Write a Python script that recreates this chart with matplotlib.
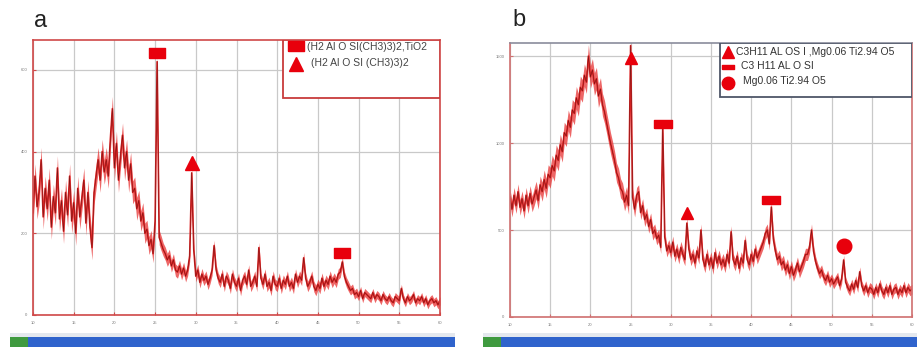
import numpy as np
import matplotlib.pyplot as plt
from matplotlib.patches import Rectangle
from matplotlib.lines import Line2D

plt.rcParams['font.family'] = ['Liberation Sans', 'DejaVu Sans']

# 2-theta grid, 0.25 deg steps (10 -> 60)
two_theta = np.arange(10, 60.01, 0.25)

# panel a intensities (4 values per degree)
counts_a = [
    250, 340, 265, 300, 380, 240, 310, 260, 330, 215, 290, 250,
    360, 235, 280, 205, 300, 245, 340, 230, 275, 200, 310, 240,
    285, 330, 225, 300, 215, 165, 300, 340, 380, 330, 400, 350,
    380, 340, 430, 505, 360, 420, 330, 390, 440, 360, 400, 330,
    370, 300, 310, 260, 280, 230, 250, 200, 210, 170, 185, 150,
    230, 620, 190, 175, 160, 150, 135, 145, 120, 135, 110, 105,
    120, 100, 115, 95, 110, 145, 348, 160, 95, 110, 80, 100,
    85, 95, 75, 90, 110, 170, 110, 90, 80, 100, 70, 95,
    85, 65, 100, 80, 70, 90, 60, 85, 95, 75, 110, 70,
    80, 95, 70, 165, 90, 75, 100, 70, 80, 60, 95, 75,
    70, 90, 65, 85, 75, 95, 70, 80, 65, 100, 80, 95,
    85, 140, 90, 70, 80, 95, 70, 60, 75, 65, 90, 70,
    85, 75, 95, 80, 90, 80, 100, 105, 130, 95, 80, 70,
    60, 65, 50, 55, 45, 60, 40, 55, 50, 45, 40, 55,
    40, 50, 45, 35, 50, 40, 35, 45, 35, 30, 45, 40,
    35, 65, 40, 30, 45, 35, 40, 50, 30, 40, 35, 45,
    30, 40, 25, 35, 40, 30, 35, 25, 35,
]
# half-width of the noise band, one value per degree (10..59) + end
band_a = [30, 30, 30, 30, 30, 30, 30, 30, 30, 30, 30, 30, 28, 25, 22,
          18, 16, 15, 14, 14, 14, 13, 13, 13, 13, 13, 13, 13, 13, 13,
          13, 13, 13, 13, 13, 13, 13, 13, 12, 11, 10, 10, 10, 10, 10,
          10, 10, 10, 10, 10, 10]

# panel b intensities
counts_b = [
    690, 620, 700, 640, 720, 630, 680, 610, 700, 640, 710, 650,
    690, 730, 670, 760, 720, 790, 740, 820, 800, 870, 840, 930,
    900, 990, 950, 1060, 1040, 1130, 1090, 1190, 1170, 1260, 1220, 1320,
    1300, 1390, 1350, 1500, 1380, 1420, 1340, 1370, 1270, 1310, 1220, 1180,
    1120, 1060, 1000, 950, 900, 830, 800, 740, 720, 660, 700, 640,
    1560, 690, 620, 700, 720, 600, 640, 560, 590, 520, 560, 480,
    500, 450, 470, 400, 1090, 460, 380, 410, 370, 430, 350, 390,
    340, 400, 360, 330, 540, 390, 330, 360, 310, 380, 340, 500,
    330, 290, 360, 300, 340, 280, 370, 310, 350, 300, 330, 290,
    360, 310, 490, 330, 300, 350, 280, 340, 310, 440, 330, 300,
    360, 320, 390, 340, 370, 400, 430, 480, 500, 420, 632, 450,
    380, 330, 350, 300, 320, 270, 300, 250, 290, 240, 270, 310,
    260, 290, 320, 360, 360, 400, 500, 380, 320, 280, 250, 270,
    230, 210, 240, 200, 220, 190, 210, 230, 180, 220, 328, 200,
    170, 150, 190, 160, 210, 170, 260, 180, 150, 180, 140, 170,
    160, 130, 170, 140, 190, 150, 130, 170, 140, 180, 130, 160,
    170, 130, 160, 140, 180, 140, 170, 150, 160,
]
band_b = [45, 45, 45, 50, 55, 60, 60, 60, 65, 65, 65, 65, 60, 55, 50,
          45, 40, 38, 35, 35, 35, 35, 35, 35, 35, 35, 35, 35, 35, 35,
          35, 35, 35, 35, 35, 35, 35, 35, 30, 30, 28, 28, 28, 28, 28,
          28, 28, 28, 28, 28, 28]

# phase markers: position, height of marker
rect_a_pos = [25.25, 48.0]
rect_a_y = [640, 152]
tri_a_pos = [29.5]
tri_a_y = [372]

tri_b_pos = [25.0, 32.0]
tri_b_y = [1490, 598]
rect_b_pos = [29.0, 42.5]
rect_b_y = [1110, 672]
circ_b_pos = [51.6]
circ_b_y = [408]

legend_a = ['(H2 Al O SI(CH3)3)2,TiO2', '(H2 Al O SI (CH3)3)2']
legend_b = ['C3H11 AL OS I ,Mg0.06 Ti2.94 O5', 'C3 H11 AL O SI', 'Mg0.06 Ti2.94 O5']

RED = '#e8000c'
LINE = '#e02424'
CORE = '#6e1414'
W, H = 917, 347

rect_wide = [(-1, -0.6), (1, -0.6), (1, 0.6), (-1, 0.6), (-1, -0.6)]
rect_thin = [(-1, -0.4), (1, -0.4), (1, 0.4), (-1, 0.4), (-1, -0.4)]

fig = plt.figure(figsize=(9.17, 3.47), dpi=100)
ax_a = fig.add_axes([33 / W, 1 - 315 / H, 407 / W, 275 / H])
ax_b = fig.add_axes([510 / W, 1 - 317 / H, 402 / W, 274 / H])


def style_axes(ax, ymax, ystep, frame):
    ax.set_xlim(10, 60)
    ax.set_ylim(0, ymax)
    ax.set_xticks(np.arange(10, 61, 5))
    ax.set_yticks(np.arange(0, ymax, ystep))
    ax.grid(True, color='#c9c9c9', linewidth=0.9)
    ax.set_axisbelow(True)
    ax.tick_params(labelsize=3, labelcolor='#777777', length=2, color=frame, direction='in', pad=4)
    for s in ax.spines.values():
        s.set_color(frame)
        s.set_linewidth(1.2)
    ax.text(1.0, -0.07, 'Theta/2Theta [deg]', transform=ax.transAxes, ha='right',
            va='top', fontsize=3, color='#777777')


def draw_pattern(ax, counts, band):
    y = np.array(counts, dtype=float)
    half = np.repeat(band, 4)[:len(y)]
    ax.fill_between(two_theta, y - half, y + half, color='#e83434', alpha=0.75, linewidth=0)
    ax.plot(two_theta, y, color=LINE, linewidth=1.2)
    ax.plot(two_theta, y, color=CORE, linewidth=0.35)


# ---- panel a ----
style_axes(ax_a, 673, 200, '#d04848')
draw_pattern(ax_a, counts_a, band_a)
ax_a.plot(rect_a_pos, rect_a_y, ls='none', marker=rect_wide, markersize=11.5, color=RED)
ax_a.plot(tri_a_pos, tri_a_y, ls='none', marker='^', markersize=9.5, color=RED)

ax_a.add_patch(Rectangle((0.614, 0.79), 0.386, 0.21, transform=ax_a.transAxes,
                         facecolor='white', edgecolor='#c83c3c', linewidth=1.3, zorder=5))
ax_a.add_line(Line2D([(296 - 33) / 407], [(315 - 46) / 275], transform=ax_a.transAxes,
                     marker=rect_wide, markersize=11.5, color=RED, zorder=6))
ax_a.add_line(Line2D([(296 - 33) / 407], [(315 - 64) / 275], transform=ax_a.transAxes,
                     marker='^', markersize=9.5, color=RED, zorder=6))
ax_a.text((307 - 33) / 407, (315 - 47) / 275, legend_a[0], transform=ax_a.transAxes,
          fontsize=7.5, color='#444444', va='center', zorder=6)
ax_a.text((311 - 33) / 407, (315 - 63) / 275, legend_a[1], transform=ax_a.transAxes,
          fontsize=7.5, color='#444444', va='center', zorder=6)

# ---- panel b ----
style_axes(ax_b, 1575, 500, '#d07070')
ax_b.spines['top'].set_color('#8a8c9c')
draw_pattern(ax_b, counts_b, band_b)
ax_b.plot(tri_b_pos, tri_b_y, ls='none', marker='^', markersize=9, color=RED)
ax_b.plot(rect_b_pos, rect_b_y, ls='none', marker=rect_thin, markersize=13, color=RED)
ax_b.plot(circ_b_pos, circ_b_y, ls='none', marker='o', markersize=10.5, color=RED)

ax_b.add_patch(Rectangle(((720 - 510) / 402, (317 - 97) / 274), (912 - 720) / 402, (97 - 43) / 274,
                         transform=ax_b.transAxes, facecolor='white', edgecolor='#4e5668',
                         linewidth=1.3, zorder=5))
mx = (728 - 510) / 402
ax_b.add_line(Line2D([mx], [(317 - 52) / 274], transform=ax_b.transAxes,
                     marker='^', markersize=8, color=RED, zorder=6))
ax_b.add_line(Line2D([mx], [(317 - 67) / 274], transform=ax_b.transAxes,
                     marker=rect_thin, markersize=8, color=RED, zorder=6))
ax_b.add_line(Line2D([mx], [(317 - 83) / 274], transform=ax_b.transAxes,
                     marker='o', markersize=9, color=RED, zorder=6))
for txt, tx, ty in zip(legend_b, [736, 741, 743], [52, 66, 81]):
    ax_b.text((tx - 510) / 402, (317 - ty) / 274, txt, transform=ax_b.transAxes,
              fontsize=7.5, color='#333333', va='center', zorder=6)

# panel letters
fig.text(34 / W, 1 - 21 / H, 'a', fontsize=17, color='#222222', va='center')
fig.text(512 / W, 1 - 20 / H, 'b', fontsize=17, color='#222222', va='center')

# screenshot taskbars under each panel
for x0, x1 in [(10, 455), (483, 917)]:
    fig.patches.append(Rectangle((x0 / W, 0), (x1 - x0) / W, 10 / H, transform=fig.transFigure,
                                 facecolor='#2f63cc', edgecolor='none'))
    fig.patches.append(Rectangle((x0 / W, 0), 18 / W, 10 / H, transform=fig.transFigure,
                                 facecolor='#3f9a3f', edgecolor='none'))
    fig.patches.append(Rectangle((x0 / W, 10 / H), (x1 - x0) / W, 4 / H, transform=fig.transFigure,
                                 facecolor='#e4e8ee', edgecolor='none'))

fig.savefig('out.png', dpi=100, facecolor='white')
